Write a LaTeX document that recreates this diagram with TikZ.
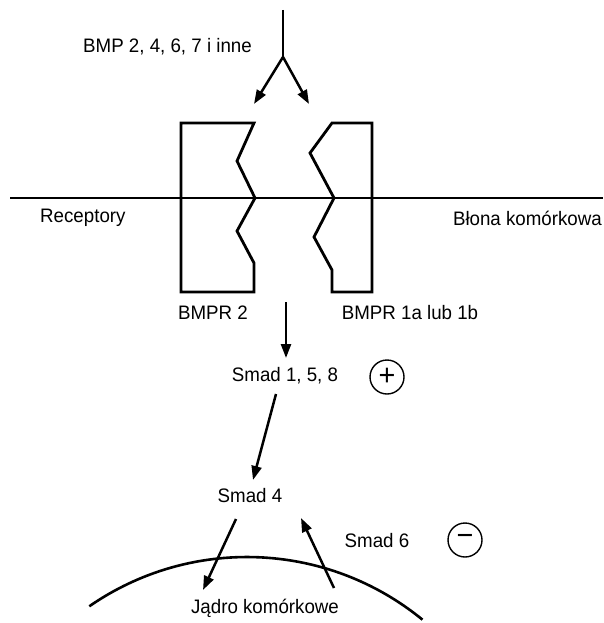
\documentclass[tikz,border=0pt]{standalone}
\usepackage{fontspec}
\setmainfont{Liberation Sans}[FakeStretch=0.96]
\usetikzlibrary{arrows.meta}
\begin{document}
\begin{tikzpicture}[x=1pt,y=-1pt,
  lbl/.style={inner sep=0pt,font=\fontsize{19.5}{23}\selectfont},
  thick line/.style={line width=2.8pt,line join=miter},
  arr/.style={line width=2.5pt,-{Triangle[length=14pt,width=10pt]}},
  sign/.style={circle,draw,line width=1.4pt,minimum size=34pt,inner sep=0pt,font=\fontsize{30}{30}\selectfont}]
\useasboundingbox (0,0) rectangle (603,623);
% membrane
\coordinate (mL) at (10,198);
\coordinate (mR) at (603,198);
\draw[line width=2.2pt] (mL) -- (mR);
% receptors
\draw[thick line] (181,123) -- (254,123) -- (237,161) -- (255,198) -- (237,231) -- (254,263) -- (254,292) -- (181,292) -- cycle;
\draw[thick line] (372,123) -- (332,123) -- (310,153) -- (334,198) -- (314,237) -- (332,270) -- (332,292) -- (372,292) -- cycle;
% texts
\node[lbl,anchor=west] (bmp) at (83,47) {BMP 2, 4, 6, 7 i inne};
\node[lbl,anchor=west] (rec) at (40,218) {Receptory};
\node[lbl,anchor=east] (blona) at (602,218) {Błona komórkowa};
\node[lbl] (r2) at (213,313) {BMPR 2};
\node[lbl] (r1) at (410,313) {BMPR 1a lub 1b};
\node[lbl] (s158) at (285,376) {Smad 1, 5, 8};
\node[lbl] (s4) at (250,496) {Smad 4};
\node[lbl] (s6) at (377,541) {Smad 6};
\node[lbl] (nuc) at (265,608) {Jądro komórkowe};
\node[sign] (plus) at (387,377) {\raisebox{1pt}{+}};
\node[sign] (minus) at (465,540) {\raisebox{1pt}{−}};
% top fork
\coordinate (top) at (283,10);
\coordinate (fork) at (283,57);
\coordinate (tipL) at (254,104);
\coordinate (tipR) at (309,104);
\draw[line width=2.8pt] (top) -- (fork);
\draw[arr] (fork) -- (tipL);
\draw[arr] (fork) -- (tipR);
% signalling arrows
\coordinate (a1s) at (286,302);
\coordinate (a1e) at (286,358);
\draw[arr] (a1s) -- (a1e);
\coordinate (a2s) at (276,394);
\coordinate (a2e) at (253,480);
\draw[arr] (a2s) -- (a2e);
\coordinate (a3s) at (236,519);
\coordinate (a3e) at (203,590);
\draw[arr] (a3s) -- (a3e);
\coordinate (a4s) at (334,588);
\coordinate (a4e) at (301,518);
\draw[arr] (a4s) -- (a4e);
% nucleus envelope
\coordinate (nc) at (247,834);
\draw[line width=2.6pt] (nc) ++(124.7:277pt) arc[start angle=124.7,end angle=50.7,radius=277pt];
\end{tikzpicture}
\end{document}
